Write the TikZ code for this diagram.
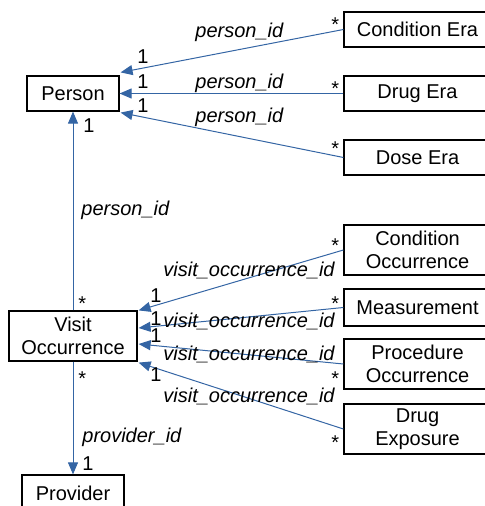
\documentclass[tikz,border=0pt]{standalone}
\usepackage{fontspec}
\setmainfont{Liberation Sans}
\usetikzlibrary{arrows.meta,calc}
\definecolor{linkblue}{HTML}{3465A4}
\tikzset{
	table/.style={draw, line width=0.6pt, align=center, inner sep=0pt, font=\fontsize{10}{11.5}\selectfont},
	link/.style={draw=linkblue, line width=0.5pt, -{Triangle[length=6pt,width=5pt]}},
	fkname/.style={inner sep=0pt, anchor=base west, font=\fontsize{10}{12}\selectfont\itshape},
	card/.style={inner sep=0pt, anchor=base west, font=\fontsize{10}{12}\selectfont}
}

\begin{document}
\begin{tikzpicture}[x=0.5pt, y=-0.5pt]
			%%%%% START %%%%%
			\useasboundingbox (0, 0) rectangle (484, 506);
			
			\node[table, minimum width=46pt, minimum height=17.5pt] (person) at (73, 93.5) {Person};
			\node[table, minimum width=73.5pt, minimum height=17.5pt] (cera) at (417.5, 29.5) {Condition Era};
			\node[table, minimum width=73.5pt, minimum height=17.5pt] (dera) at (417.5, 93.5) {Drug Era};
			\node[table, minimum width=73.5pt, minimum height=17.5pt] (doera) at (417.5, 157.5) {Dose Era};
			
			\node[table, minimum width=64pt, minimum height=25pt] (visit) at (73, 336) {Visit\\Occurrence};
			\node[table, minimum width=73.5pt, minimum height=25pt] (cocc) at (417.5, 250) {Condition\\Occurrence};
			\node[table, minimum width=73.5pt, minimum height=18.5pt] (meas) at (417.5, 307.5) {Measurement};
			\node[table, minimum width=73.5pt, minimum height=25pt] (pocc) at (417.5, 364) {Procedure\\Occurrence};
			\node[table, minimum width=73.5pt, minimum height=25pt] (dexp) at (417.5, 429) {Drug\\Exposure};
			\node[table, minimum width=51pt, minimum height=18pt] (provider) at (73, 493) {Provider};
			
			\draw[link] (cera.west) -- ($(person.north east)+(1, -3)$);
			\draw[link] (dera.west) -- (person.east);
			\draw[link] (doera.west) -- ($(person.south east)+(1, 1)$);
			\draw[link] (visit.north) -- (person.south);
			
			\draw[link] (cocc.west) -- ($(visit.north east)+(1, 0)$);
			\draw[link] (meas.west) -- ($(visit.east)+(1, -8)$);
			\draw[link] (pocc.west) -- ($(visit.east)+(1, 8)$);
			\draw[link] (dexp.west) -- ($(visit.south east)+(1, 1)$);
			\draw[link] (visit.south) -- (provider.north);
			
			\node[fkname] (fk1) at (195, 38) {person\_id};
			\node[fkname] (fk2) at (195, 89) {person\_id};
			\node[fkname] (fk3) at (195, 123) {person\_id};
			\node[fkname] (fk4) at (81, 216) {person\_id};
			\node[fkname] (fk5) at (163, 277) {visit\_occurrence\_id};
			\node[fkname] (fk6) at (163, 327.5) {visit\_occurrence\_id};
			\node[fkname] (fk7) at (163, 360) {visit\_occurrence\_id};
			\node[fkname] (fk8) at (163, 402) {visit\_occurrence\_id};
			\node[fkname] (fk9) at (82, 442) {provider\_id};
			
			\node[card] (one1) at (137, 64) {1};
			\node[card] (one2) at (137, 89) {1};
			\node[card] (one3) at (137, 113) {1};
			\node[card] (one4) at (83, 132.5) {1};
			\node[card] (one5) at (150, 302.5) {1};
			\node[card] (one6) at (150, 325) {1};
			\node[card] (one7) at (150, 342.5) {1};
			\node[card] (one8) at (150, 381.5) {1};
			\node[card] (one9) at (82, 470) {1};
			
			\node[card] (many1) at (331, 32) {*};
			\node[card] (many2) at (331, 96) {*};
			\node[card] (many3) at (331, 156) {*};
			\node[card] (many4) at (78, 310) {*};
			\node[card] (many5) at (78, 385) {*};
			\node[card] (many6) at (331, 253) {*};
			\node[card] (many7) at (331, 310) {*};
			\node[card] (many8) at (331, 385) {*};
			\node[card] (many9) at (331, 449) {*};
			
			%%%%% END %%%%%
		\end{tikzpicture}
\end{document}
